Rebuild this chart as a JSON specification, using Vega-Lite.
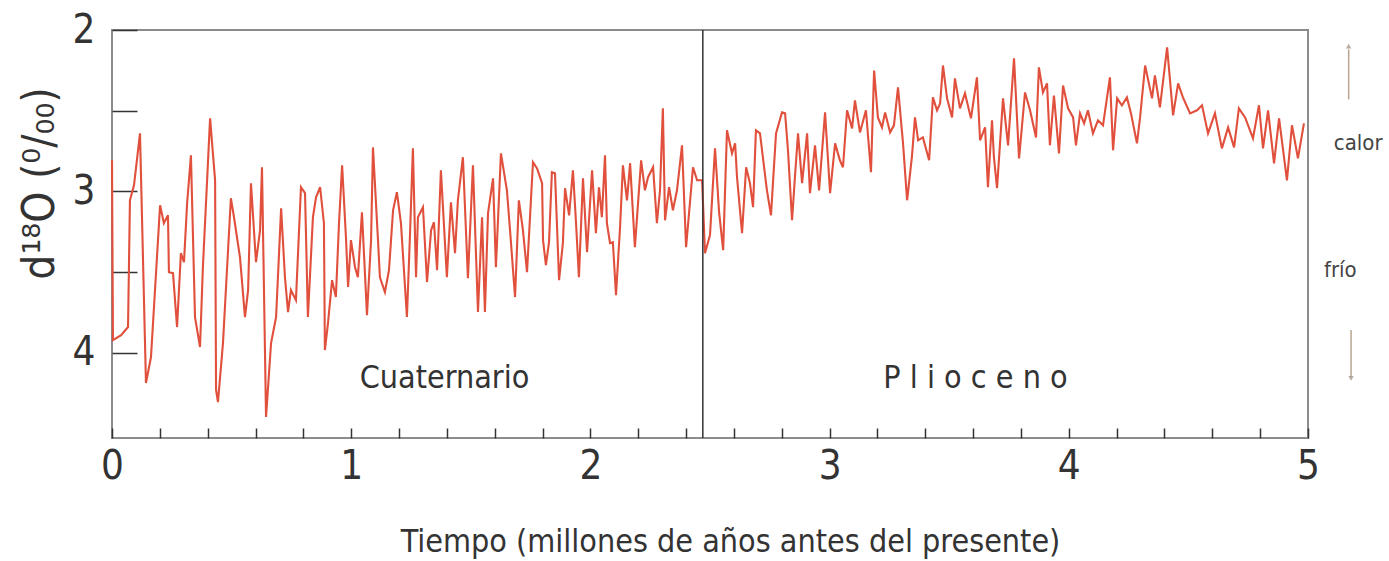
{
  "$schema": "https://vega.github.io/schema/vega-lite/v6.json",
  "autosize": {"type": "none"},
  "padding": {"left": 112, "top": 30, "right": 81, "bottom": 123},
  "width": 1196,
  "height": 408,
  "background": "white",
  "config": {
    "view": {"stroke": "#8c8c8c", "strokeWidth": 2},
    "font": "DejaVu Sans Condensed, DejaVu Sans"
  },
  "layer": [
    {
      "data": {"values": [
        {"t":0.000,"d":2.808},{"t":0.004,"d":3.923},{"t":0.038,"d":3.892},{"t":0.067,"d":3.842},{"t":0.075,"d":3.056},{"t":0.092,"d":2.963},{"t":0.117,"d":2.641},{"t":0.142,"d":4.189},{"t":0.163,"d":4.028},{"t":0.201,"d":3.087},{"t":0.217,"d":3.198},{"t":0.234,"d":3.149},{"t":0.238,"d":3.502},{"t":0.255,"d":3.508},{"t":0.272,"d":3.842},{"t":0.288,"d":3.384},{"t":0.301,"d":3.440},{"t":0.314,"d":3.074},{"t":0.330,"d":2.777},{"t":0.347,"d":3.780},{"t":0.368,"d":3.966},{"t":0.380,"d":3.471},{"t":0.397,"d":2.950},{"t":0.410,"d":2.548},{"t":0.431,"d":2.932},{"t":0.435,"d":4.232},{"t":0.443,"d":4.307},{"t":0.464,"d":3.941},{"t":0.497,"d":3.043},{"t":0.510,"d":3.161},{"t":0.535,"d":3.409},{"t":0.556,"d":3.780},{"t":0.569,"d":3.613},{"t":0.581,"d":2.950},{"t":0.602,"d":3.440},{"t":0.619,"d":3.241},{"t":0.627,"d":2.851},{"t":0.644,"d":4.399},{"t":0.665,"d":3.941},{"t":0.686,"d":3.780},{"t":0.707,"d":3.105},{"t":0.723,"d":3.533},{"t":0.736,"d":3.749},{"t":0.748,"d":3.613},{"t":0.769,"d":3.675},{"t":0.790,"d":2.975},{"t":0.807,"d":3.012},{"t":0.819,"d":3.780},{"t":0.840,"d":3.161},{"t":0.853,"d":3.037},
        {"t":0.870,"d":2.975},{"t":0.886,"d":3.198},{"t":0.890,"d":3.985},{"t":0.903,"d":3.817},{"t":0.920,"d":3.551},{"t":0.936,"d":3.656},{"t":0.949,"d":3.198},{"t":0.962,"d":2.839},{"t":0.978,"d":3.285},{"t":0.987,"d":3.594},{"t":0.999,"d":3.303},{"t":1.016,"d":3.471},{"t":1.028,"d":3.533},{"t":1.045,"d":3.130},{"t":1.066,"d":3.768},{"t":1.083,"d":3.303},{"t":1.091,"d":2.728},{"t":1.112,"d":3.303},{"t":1.120,"d":3.533},{"t":1.141,"d":3.625},{"t":1.158,"d":3.489},{"t":1.175,"d":3.118},{"t":1.191,"d":3.006},{"t":1.208,"d":3.198},{"t":1.233,"d":3.780},{"t":1.246,"d":3.260},{"t":1.258,"d":2.734},{"t":1.271,"d":3.533},{"t":1.279,"d":3.161},{"t":1.300,"d":3.099},{"t":1.317,"d":3.563},{"t":1.334,"d":3.241},{"t":1.346,"d":3.192},{"t":1.359,"d":3.489},{"t":1.375,"d":2.870},{"t":1.400,"d":3.533},{"t":1.417,"d":3.068},{"t":1.434,"d":3.384},{"t":1.446,"d":3.056},{"t":1.467,"d":2.789},{"t":1.488,"d":3.539},{"t":1.509,"d":2.839},{"t":1.530,"d":3.749},{"t":1.547,"d":3.161},{"t":1.559,"d":3.749},{"t":1.572,"d":3.136},{"t":1.593,"d":2.920},{"t":1.605,"d":3.471},{"t":1.626,"d":2.765},{"t":1.651,"d":2.994},{"t":1.664,"d":3.241},{"t":1.685,"d":3.656},{"t":1.701,"d":3.056},
        {"t":1.718,"d":3.241},{"t":1.735,"d":3.502},{"t":1.760,"d":2.820},{"t":1.777,"d":2.858},{"t":1.798,"d":2.950},{"t":1.802,"d":3.303},{"t":1.814,"d":3.458},{"t":1.827,"d":3.316},{"t":1.839,"d":2.882},{"t":1.852,"d":2.889},{"t":1.869,"d":3.551},{"t":1.885,"d":3.322},{"t":1.894,"d":2.981},{"t":1.911,"d":3.149},{"t":1.927,"d":2.870},{"t":1.940,"d":3.198},{"t":1.952,"d":3.533},{"t":1.969,"d":2.920},{"t":1.986,"d":3.378},{"t":2.007,"d":2.870},{"t":2.023,"d":3.260},{"t":2.036,"d":2.975},{"t":2.048,"d":3.161},{"t":2.061,"d":2.777},{"t":2.069,"d":3.198},{"t":2.082,"d":3.322},{"t":2.094,"d":3.316},{"t":2.107,"d":3.644},{"t":2.124,"d":3.223},{"t":2.136,"d":2.839},{"t":2.153,"d":3.056},{"t":2.166,"d":2.826},{"t":2.186,"d":3.347},{"t":2.212,"d":2.808},{"t":2.228,"d":2.994},{"t":2.241,"d":2.913},{"t":2.262,"d":2.851},{"t":2.278,"d":3.198},{"t":2.291,"d":2.994},{"t":2.303,"d":2.486},{"t":2.312,"d":3.180},{"t":2.329,"d":2.975},{"t":2.345,"d":3.118},{"t":2.362,"d":2.994},{"t":2.383,"d":2.715},{"t":2.400,"d":3.347},{"t":2.429,"d":2.851},{"t":2.446,"d":2.932},{"t":2.467,"d":2.932},{"t":2.479,"d":3.384},{"t":2.500,"d":3.272},{"t":2.521,"d":2.734},{"t":2.538,"d":3.130},{"t":2.555,"d":3.365},
        {"t":2.571,"d":2.622},{"t":2.592,"d":2.765},{"t":2.605,"d":2.703},{"t":2.613,"d":2.913},{"t":2.634,"d":3.260},{"t":2.651,"d":2.851},{"t":2.667,"d":2.950},{"t":2.680,"d":3.099},{"t":2.692,"d":2.622},{"t":2.709,"d":2.641},{"t":2.738,"d":2.994},{"t":2.755,"d":3.149},{"t":2.776,"d":2.641},{"t":2.801,"d":2.511},{"t":2.814,"d":2.517},{"t":2.826,"d":2.746},{"t":2.843,"d":3.180},{"t":2.855,"d":2.913},{"t":2.868,"d":2.641},{"t":2.885,"d":2.950},{"t":2.906,"d":2.641},{"t":2.918,"d":3.012},{"t":2.939,"d":2.715},{"t":2.956,"d":2.994},{"t":2.981,"d":2.511},{"t":3.002,"d":3.012},{"t":3.023,"d":2.703},{"t":3.043,"d":2.808},{"t":3.056,"d":2.851},{"t":3.073,"d":2.498},{"t":3.094,"d":2.610},{"t":3.106,"d":2.437},{"t":3.127,"d":2.635},{"t":3.152,"d":2.498},{"t":3.173,"d":2.882},{"t":3.186,"d":2.251},{"t":3.202,"d":2.542},{"t":3.219,"d":2.604},{"t":3.232,"d":2.511},{"t":3.253,"d":2.635},{"t":3.269,"d":2.591},{"t":3.286,"d":2.356},{"t":3.307,"d":2.703},{"t":3.324,"d":3.056},
        {"t":3.344,"d":2.789},{"t":3.357,"d":2.542},{"t":3.370,"d":2.684},{"t":3.390,"d":2.666},{"t":3.416,"d":2.808},{"t":3.432,"d":2.418},{"t":3.449,"d":2.498},{"t":3.462,"d":2.455},{"t":3.474,"d":2.220},{"t":3.491,"d":2.424},{"t":3.512,"d":2.542},{"t":3.524,"d":2.300},{"t":3.545,"d":2.486},{"t":3.566,"d":2.393},{"t":3.591,"d":2.548},{"t":3.616,"d":2.294},{"t":3.629,"d":2.684},{"t":3.650,"d":2.604},{"t":3.662,"d":2.975},{"t":3.679,"d":2.560},{"t":3.687,"d":2.789},{"t":3.700,"d":2.981},{"t":3.725,"d":2.424},{"t":3.746,"d":2.715},{"t":3.771,"d":2.176},{"t":3.792,"d":2.796},{"t":3.817,"d":2.387},{"t":3.838,"d":2.498},{"t":3.863,"d":2.666},{"t":3.875,"d":2.232},{"t":3.892,"d":2.387},{"t":3.909,"d":2.331},{"t":3.921,"d":2.715},{"t":3.938,"d":2.406},{"t":3.959,"d":2.765},{"t":3.976,"d":2.344},{"t":3.997,"d":2.486},{"t":4.018,"d":2.542},{"t":4.030,"d":2.715},{"t":4.047,"d":2.517},{"t":4.064,"d":2.579},{"t":4.080,"d":2.498},{"t":4.101,"d":2.641},{"t":4.122,"d":2.560},{"t":4.143,"d":2.591},{"t":4.152,"d":2.498},{"t":4.172,"d":2.294},{"t":4.185,"d":2.746},{"t":4.202,"d":2.424},{"t":4.222,"d":2.467},{"t":4.243,"d":2.418},{"t":4.260,"d":2.517},{"t":4.285,"d":2.703},{"t":4.298,"d":2.542},{"t":4.319,"d":2.220},{"t":4.348,"d":2.424},{"t":4.360,"d":2.282},{"t":4.381,"d":2.480},{"t":4.411,"d":2.108},{"t":4.436,"d":2.529},{"t":4.457,"d":2.331},{"t":4.477,"d":2.418},{"t":4.507,"d":2.517},{"t":4.536,"d":2.498},{"t":4.557,"d":2.467},{"t":4.582,"d":2.641},{"t":4.611,"d":2.517},{"t":4.640,"d":2.734},{"t":4.666,"d":2.604},{"t":4.691,"d":2.728},{"t":4.711,"d":2.486},{"t":4.737,"d":2.542},{"t":4.770,"d":2.672},{"t":4.795,"d":2.467},{"t":4.812,"d":2.734},{"t":4.833,"d":2.498},{"t":4.858,"d":2.827},{"t":4.879,"d":2.548},{"t":4.912,"d":2.932},{"t":4.933,"d":2.591},{"t":4.958,"d":2.796},{"t":4.983,"d":2.579}
      ]},
      "mark": {"type": "line", "color": "#e0503c", "strokeWidth": 2.1, "strokeJoin": "miter"},
      "encoding": {
        "x": {
          "field": "t", "type": "quantitative",
          "scale": {"domain": [0, 5], "nice": false, "zero": false},
          "axis": {
            "values": [0,0.2,0.4,0.6,0.8,1,1.2,1.4,1.6,1.8,2,2.2,2.4,2.6,2.8,3,3.2,3.4,3.6,3.8,4,4.2,4.4,4.6,4.8,5],
            "labelExpr": "datum.value % 1 == 0 ? format(datum.value, 'd') : ''",
            "domain": false, "grid": false,
            "tickSize": -10, "tickColor": "#333", "tickWidth": 1.5,
            "labelFontSize": 40, "labelColor": "#333", "labelPadding": 18,
            "labelFlush": false,
            "title": "Tiempo (millones de años antes del presente)",
            "titleFontSize": 32, "titleFontWeight": "normal", "titleColor": "#333",
            "titleX": 618, "titleY": 103, "titleBaseline": "middle", "titleAnchor": null
          }
        },
        "y": {
          "field": "d", "type": "quantitative",
          "scale": {"domain": [2, 4.53], "nice": false, "zero": false, "reverse": true},
          "axis": {
            "values": [2, 2.5, 3, 3.5, 4],
            "labelExpr": "datum.value % 1 == 0 ? format(datum.value, 'd') : ''",
            "domain": false, "grid": false,
            "tickSize": -25, "tickColor": "#333", "tickWidth": 1.5,
            "labelFontSize": 40, "labelColor": "#333", "labelPadding": 42,
            "labelFlush": false,
            "title": "d¹⁸O (⁰/₀₀)",
            "titleFontSize": 44, "titleFontWeight": "normal", "titleColor": "#333",
            "titleAngle": -90, "titleX": -72, "titleY": 153, "titleBaseline": "middle", "titleAlign": "center"
          }
        }
      }
    },
    {
      "data": {"values": [{"t": 2.47}]},
      "mark": {"type": "rule", "color": "#333", "strokeWidth": 1.5},
      "encoding": {"x": {"field": "t", "type": "quantitative"}}
    },
    {
      "data": {"values": [
        {"t": 1.39, "d": 4.16, "label": "Cuaternario"},
        {"t": 3.61, "d": 4.16, "label": "P l i o c e n o"}
      ]},
      "mark": {"type": "text", "fontSize": 32, "color": "#333", "align": "center", "baseline": "middle"},
      "encoding": {
        "x": {"field": "t", "type": "quantitative"},
        "y": {"field": "d", "type": "quantitative"},
        "text": {"field": "label"}
      }
    },
    {
      "data": {"values": [
        {"t": 5.21, "d": 2.70, "label": "calor"},
        {"t": 5.135, "d": 3.49, "label": "frío"}
      ]},
      "mark": {"type": "text", "fontSize": 22, "color": "#444", "align": "center", "baseline": "middle"},
      "encoding": {
        "x": {"field": "t", "type": "quantitative"},
        "y": {"field": "d", "type": "quantitative"},
        "text": {"field": "label"}
      }
    },
    {
      "data": {"values": [
        {"t": 5.17, "d": 2.12, "d2": 2.43},
        {"t": 5.18, "d": 3.86, "d2": 4.15}
      ]},
      "mark": {"type": "rule", "color": "#b9a58e", "strokeWidth": 1.5},
      "encoding": {
        "x": {"field": "t", "type": "quantitative"},
        "y": {"field": "d", "type": "quantitative"},
        "y2": {"field": "d2"}
      }
    },
    {
      "data": {"values": [
        {"t": 5.17, "d": 2.1, "dir": "up"},
        {"t": 5.18, "d": 4.16, "dir": "down"}
      ]},
      "mark": {"type": "point", "filled": true, "color": "#9a8a78", "size": 30},
      "encoding": {
        "x": {"field": "t", "type": "quantitative"},
        "y": {"field": "d", "type": "quantitative"},
        "shape": {"field": "dir", "type": "nominal", "scale": {"domain": ["up", "down"], "range": ["triangle-up", "triangle-down"]}, "legend": null}
      }
    }
  ]
}
